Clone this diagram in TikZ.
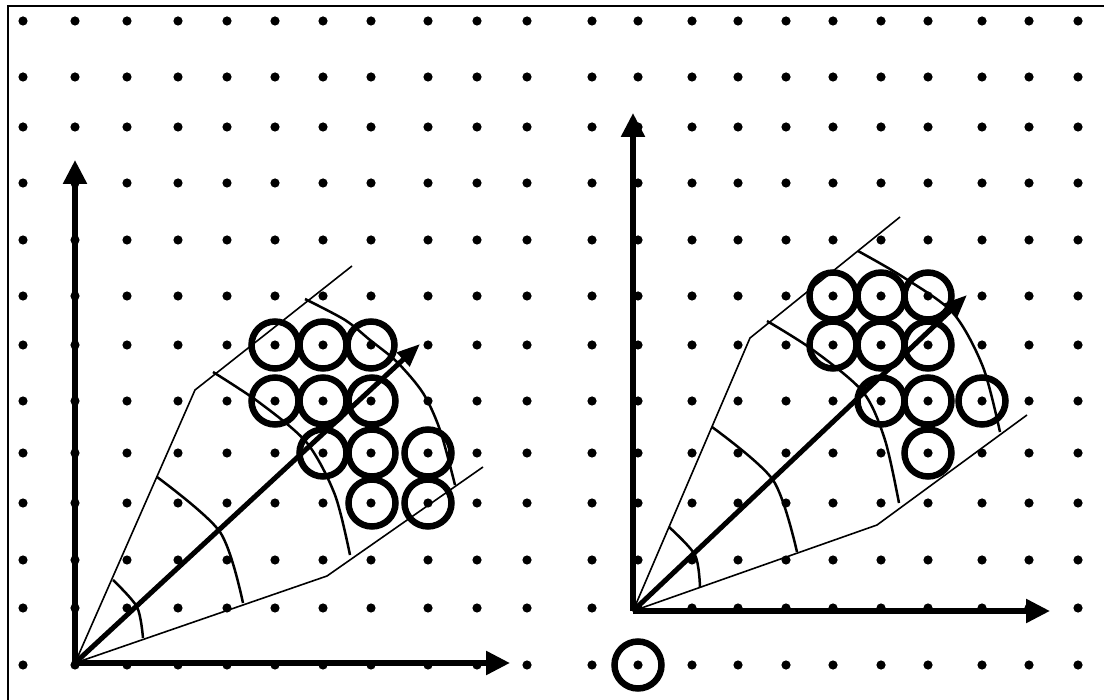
\documentclass[tikz,border=0pt]{standalone}
\usetikzlibrary{arrows.meta}

\begin{document}
\begin{tikzpicture}[
    x=1pt, y=-1pt,
    frame/.style={line width=2.5pt},
    grain/.style={fill=black},
    axis/.style={line width=5.5pt, -{Triangle[length=24pt, width=23pt]}},
    vec/.style={line width=5pt, -{Triangle[length=23pt, width=18pt]}},
    cone/.style={line width=1.6pt, line join=round},
    cut/.style={line width=2.5pt},
    ring/.style={draw, line width=6.5pt}
  ]
    \useasboundingbox (0,0) rectangle (1104,700);
    \draw[frame] (8,700) -- (8,6) -- (1104,6);

    % lattice of points
    \foreach \gx in {23,75,127,178,227,275,323,371,428,477,527,592,638,692,738,786,833,881,928,982,1029,1078}
      \foreach \gy in {21,77,127,183,240,296,345,401,453,503,560,608,665}
        \fill[grain] (\gx,\gy) circle (4.6pt);

    % left frame
    \coordinate (O1) at (75,663);
    \coordinate (X1) at (510,663);
    \coordinate (Y1) at (75,160);
    \coordinate (T1) at (420,344);
    \draw[axis] (O1) -- (X1);
    \draw[axis] (O1) -- (Y1);
    \draw[cone] (352,266) -- (195,390) -- (O1) -- (327,576) -- (483,467);
    \draw[cut] plot[smooth] coordinates {(113,580) (137,607) (143,638)};
    \draw[cut] plot[smooth] coordinates {(157,477) (220,532) (243,603)};
    \draw[cut] plot[smooth] coordinates {(213,372) (260,403) (307,443) (335,495) (350,555)};
    \draw[cut] plot[smooth] coordinates {(305,299) (345,320) (370,340) (397,362) (423,393) (440,430) (455,485)};
    \draw[vec] (O1) -- (T1);
    \foreach \cx/\cy in {275/345, 323/345, 371/345, 275/401, 323/401, 372/401,
                         323/453, 372/453, 428/453, 372/503, 428/503}
      \draw[ring] (\cx,\cy) circle (23.5pt);

    % right frame
    \coordinate (O2) at (633,611);
    \coordinate (X2) at (1050,611);
    \coordinate (Y2) at (633,113);
    \coordinate (T2) at (967,295);
    \draw[axis] (O2) -- (X2);
    \draw[axis] (O2) -- (Y2);
    \draw[cone] (900,217) -- (750,338) -- (O2) -- (877,525) -- (1027,415);
    \draw[cut] plot[smooth] coordinates {(669,527) (695,555) (700,587)};
    \draw[cut] plot[smooth] coordinates {(712,427) (773,480) (797,552)};
    \draw[cut] plot[smooth] coordinates {(767,321) (813,350) (863,392) (885,440) (899,503)};
    \draw[cut] plot[smooth] coordinates {(858,251) (903,277) (953,313) (983,367) (1000,432)};
    \draw[vec] (O2) -- (T2);
    \foreach \cx/\cy in {833/296, 881/296, 928/296, 833/345, 881/345, 928/345,
                         881/401, 928/401, 982/401, 928/453}
      \draw[ring] (\cx,\cy) circle (23.5pt);

    % stray point
    \draw[ring] (638,665) circle (23.5pt);
\end{tikzpicture}
\end{document}
